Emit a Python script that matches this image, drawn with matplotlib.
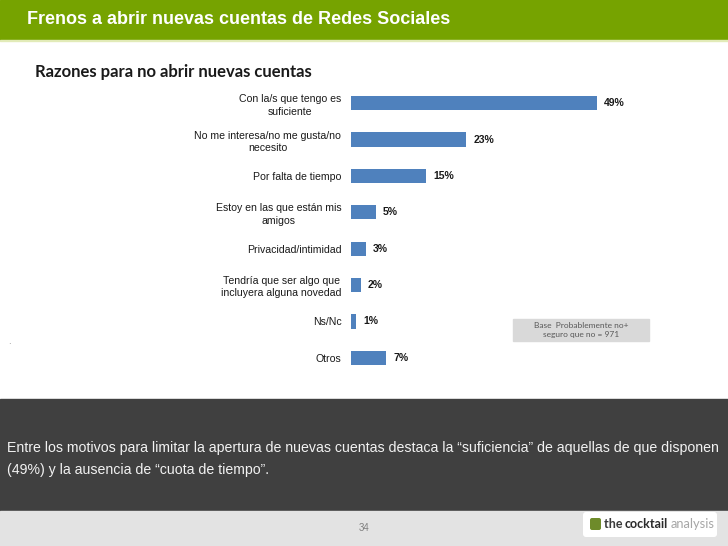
import matplotlib
matplotlib.use("Agg")
import matplotlib.pyplot as plt
from matplotlib.patches import Rectangle, FancyBboxPatch

# datos
razones = ["Con la/s que tengo es\nsuficiente",
           "No me interesa/no me gusta/no\nnecesito",
           "Por falta de tiempo",
           "Estoy en las que están mis\namigos",
           "Privacidad/intimidad",
           "Tendría que ser algo que\nincluyera alguna novedad",
           "Ns/Nc",
           "Otros"]
porcentajes = [49, 23, 15, 5, 3, 2, 1, 7]

titulo = "Frenos a abrir nuevas cuentas de Redes Sociales"
subtitulo = "Razones para no abrir nuevas cuentas"
nota_base = "Base  Probablemente no+\nseguro que no = 971"
conclusion = ("Entre los motivos para limitar la apertura de nuevas cuentas destaca la \u201csuficiencia\u201d de aquellas de que disponen\n"
              "(49%) y la ausencia de \u201ccuota de tiempo\u201d.")
pagina = "34"

W, H = 728, 546
fig = plt.figure(figsize=(W / 100, H / 100), dpi=100)
fig.patch.set_facecolor("white")

def fx(px):
    return px / W

def fy(py):
    return 1 - py / H

# fondo: cabecera verde, banda oscura, pie gris
bg = fig.add_axes([0, 0, 1, 1])
bg.set_xlim(0, W)
bg.set_ylim(H, 0)
bg.axis("off")
bg.add_patch(Rectangle((0, 0), W, 40, color="#76A300", zorder=0))
bg.add_patch(Rectangle((0, 40), W, 1.2, color="#E2EBB8", zorder=0))
bg.add_patch(Rectangle((0, 399), W, 112, color="#404040", zorder=0))
bg.add_patch(Rectangle((0, 511), W, 35, color="#E3E3E3", zorder=0))
bg.add_patch(Rectangle((513, 319), 136, 22, color="#D9D9D9", zorder=1))
bg.add_patch(FancyBboxPatch((583, 512), 134, 25, boxstyle="round,pad=0,rounding_size=3",
                            facecolor="white", edgecolor="none", zorder=1))
bg.add_patch(FancyBboxPatch((590, 518), 11, 12, boxstyle="round,pad=0,rounding_size=2",
                            facecolor="#6E8B2A", edgecolor="none", zorder=2))

bg.text(27, 20, titulo, color="white", fontsize=13, fontweight="bold",
        family="Liberation Sans", va="center", ha="left")
bg.text(35, 72, subtitulo, color="#1A1A1A", fontsize=12, fontweight="bold",
        family="Lato", va="center", ha="left")
bg.text(581, 330, nota_base, color="#595959", fontsize=6, family="Lato",
        va="center", ha="center", multialignment="center", zorder=2)
bg.text(8, 342, ".", color="#808080", fontsize=6, va="center")
bg.text(7, 459, conclusion, color="#F2F2F2", fontsize=10.15, family="Liberation Sans",
        va="center", ha="left", linespacing=1.75)
bg.text(364, 528, pagina, color="#7F7F7F", fontsize=7, family="Liberation Sans",
        va="center", ha="center")
bg.text(604, 524, "the ", color="#3A3A3A", fontsize=9, fontweight="bold",
        family="Lato", va="center", ha="left")
bg.text(625, 524, "cocktail", color="#2B2B2B", fontsize=9, fontweight="bold",
        family="Lato", va="center", ha="left")
bg.text(671, 524, "analysis", color="#A6A6A6", fontsize=9.3, family="Lato",
        va="center", ha="left")

# grafico de barras
ax_l, ax_r, ax_t, ax_b = 351, 651, 85, 376
px_por_pct = 5.02
ax = fig.add_axes([fx(ax_l), fy(ax_b), fx(ax_r - ax_l), (ax_b - ax_t) / H])
ax.set_facecolor("none")
pos = list(range(len(razones)))
ax.barh(pos, porcentajes, height=0.39, color="#4F81BD")
ax.set_xlim(0, (ax_r - ax_l) / px_por_pct)
ax.set_ylim(len(razones) - 0.5, -0.5)
ax.set_yticks(pos)
ax.set_yticklabels(razones, fontsize=7.6, family="Liberation Sans", color="#1A1A1A",
                   linespacing=1.3)
for lbl in ax.get_yticklabels():
    lbl.set_multialignment("center")
ax.tick_params(axis="y", length=0, pad=7)
ax.set_xticks([])
for s in ax.spines.values():
    s.set_visible(False)
for p, v in zip(pos, porcentajes):
    ax.annotate(f"{v}%", (v, p), xytext=(5, 0), textcoords="offset points",
                va="center", ha="left", fontsize=7.5, fontweight="bold",
                family="Liberation Sans", color="#1A1A1A")

fig.savefig("out.png", dpi=100)
